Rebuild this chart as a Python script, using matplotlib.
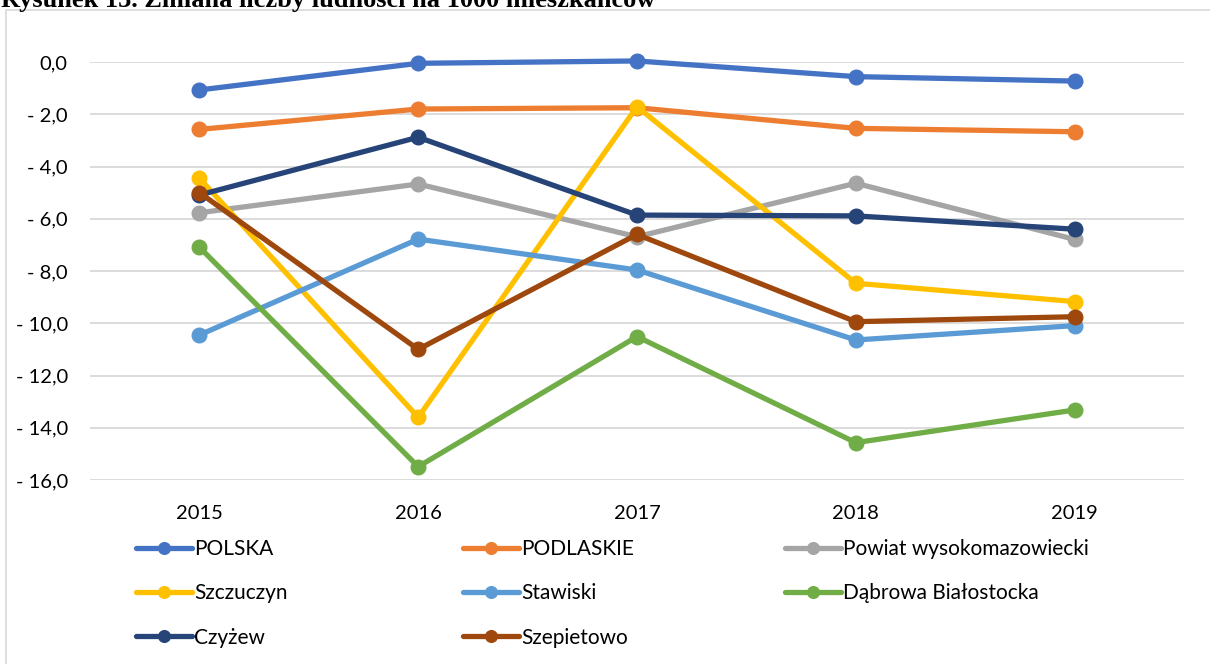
#-*- coding: utf-8 -*-
# Zmiana liczby ludnosci na 1000 mieszkancow - wykres liniowy
import matplotlib
matplotlib.use('Agg')
import matplotlib.pyplot as plt
from matplotlib.patches import Rectangle
from matplotlib.ticker import FuncFormatter

######################DANE#############################
lata = ['2015', '2016', '2017', '2018', '2019']

polska      = [-1.07, -0.05,  0.04,  -0.56,  -0.73]
podlaskie   = [-2.58, -1.80, -1.75,  -2.54,  -2.67]
powiat      = [-5.77, -4.67, -6.69,  -4.64,  -6.79]
szczuczyn   = [-4.45, -13.60, -1.71, -8.47,  -9.17]
stawiski    = [-10.45, -6.78, -7.96, -10.64, -10.09]
dabrowa     = [-7.09, -15.49, -10.51, -14.57, -13.32]
czyzew      = [-5.09, -2.88, -5.86,  -5.89,  -6.40]
szepietowo  = [-5.00, -11.00, -6.60, -9.94,  -9.75]

nazwy = ['POLSKA', 'PODLASKIE', 'Powiat wysokomazowiecki', 'Szczuczyn',
         'Stawiski', 'Dąbrowa Białostocka', 'Czyżew', 'Szepietowo']
serie = [polska, podlaskie, powiat, szczuczyn, stawiski, dabrowa, czyzew, szepietowo]
kolory = ['#4472C4', '#ED7D31', '#A5A5A5', '#FFC000',
          '#5B9BD5', '#70AD47', '#264478', '#9E480E']
#######################################################

plt.rcParams['font.family'] = ['Lato', 'DejaVu Sans']

W, H = 1210, 664
fig = plt.figure(figsize=(W/100, H/100), dpi=100)

# ramka wykresu (jak w Excelu)
fig.patches.append(Rectangle((6/W, -0.1), 1.2, 1 - 10/H + 0.1, transform=fig.transFigure,
                             fill=False, edgecolor='#d9d9d9', lw=1.2))

# tytul uciety u gory
fig.text(1/W, 1 - 7/H, 'Rysunek 13. Zmiana liczby ludności na 1000 mieszkańców',
         family='Liberation Serif', weight='bold', fontsize=19, va='baseline', ha='left')

ax = fig.add_axes([90/W, 1 - 480/H, (1184-90)/W, (480-62)/H])

x = list(range(len(lata)))
linie = []
for nazwa, y, c in zip(nazwy, serie, kolory):
    l, = ax.plot(x, y, color=c, lw=3.8, marker='o', markersize=10.5,
                 solid_capstyle='round', clip_on=False, label=nazwa, zorder=3)
    linie.append(l)

ax.set_xlim(-0.5, len(lata) - 0.5)
ax.set_ylim(-16, 0)
ax.set_yticks(range(-16, 1, 2))
ax.yaxis.set_major_formatter(FuncFormatter(
    lambda v, p: '0,0' if v == 0 else '- %s' % ('%.1f' % abs(v)).replace('.', ',')))
ax.set_xticks(x)
ax.set_xticklabels(lata)
ax.tick_params(axis='both', length=0, labelsize=14.5, labelcolor='#000000')
ax.tick_params(axis='y', pad=16)
ax.tick_params(axis='x', pad=18)
ax.grid(axis='y', color='#d9d9d9', lw=1.3)
ax.set_axisbelow(True)
for s in ax.spines.values():
    s.set_visible(False)

# legenda - trzy kolumny ustawione recznie
kolumny = [[0, 3, 6], [1, 4, 7], [2, 5]]
xs = [136, 463, 785]
for k, xk in zip(kolumny, xs):
    leg = fig.legend([linie[i] for i in k], [nazwy[i] for i in k],
                     loc='upper left', bbox_to_anchor=(xk/W, 1 - 539/H),
                     frameon=False, fontsize=15, handlelength=2.7,
                     handletextpad=0.1, labelspacing=1.17, borderpad=0,
                     borderaxespad=0, markerscale=0.8)

plt.savefig('out.png', dpi=100)
